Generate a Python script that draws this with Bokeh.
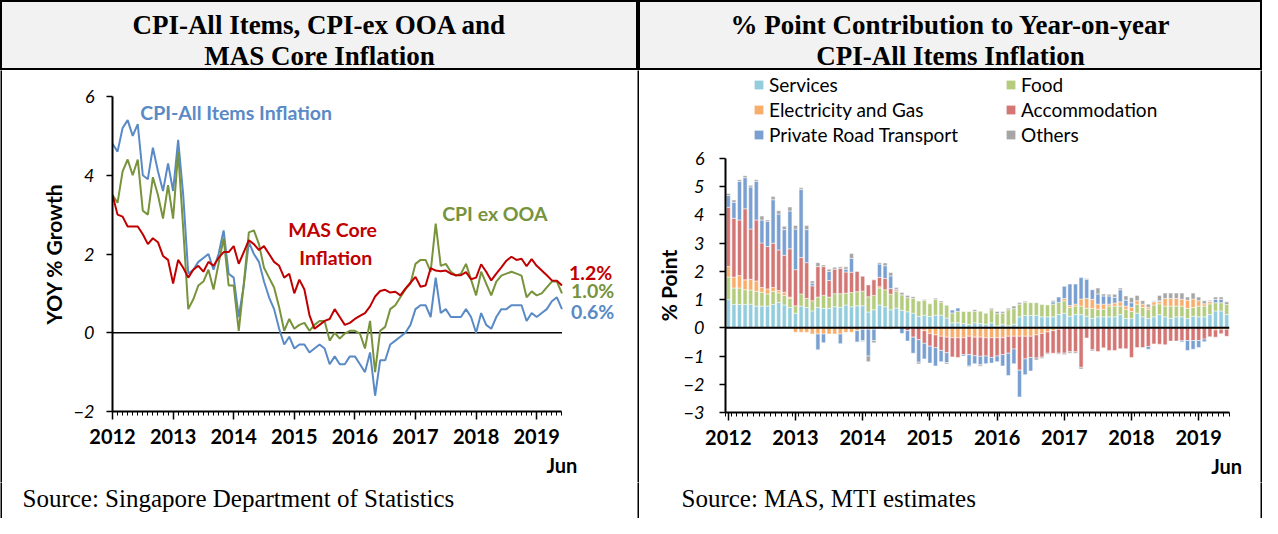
import numpy as np
from bokeh.plotting import figure
from bokeh.models import (Range1d, FixedTicker, Span, Label, Legend, LegendItem,
                          ColumnDataSource, LinearAxis)
from bokeh.layouts import row, column
from bokeh.embed import file_html
from bokeh.resources import INLINE

# ---------------- data (monthly, Jan 2012 .. Jun 2019) ----------------
year_labels = ["2012", "2013", "2014", "2015", "2016", "2017", "2018", "2019"]
last_month_label = "Jun"

cpi_all = [4.8, 4.6, 5.2, 5.4, 5.0, 5.3, 4.0, 3.9, 4.7, 4.1, 3.6, 4.3,
           3.6, 4.9, 3.5, 1.5, 1.6, 1.8, 1.9, 2.0, 1.6, 2.0, 2.6, 1.5,
           1.4, 0.4, 1.2, 2.3, 2.0, 1.8, 1.3, 0.9, 0.6, 0.1, -0.3, -0.1,
           -0.4, -0.3, -0.3, -0.5, -0.4, -0.3, -0.4, -0.8, -0.6, -0.8, -0.8, -0.6,
           -0.6, -0.8, -1.0, -0.5, -1.6, -0.7, -0.7, -0.3, -0.2, -0.1, 0.0, 0.2,
           0.6, 0.7, 0.7, 0.4, 1.4, 0.5, 0.6, 0.4, 0.4, 0.4, 0.6, 0.4,
           0.0, 0.5, 0.2, 0.1, 0.4, 0.6, 0.6, 0.7, 0.7, 0.7, 0.3, 0.5,
           0.4, 0.5, 0.6, 0.8, 0.9, 0.6]
cpi_ex_ooa = [3.5, 3.3, 4.1, 4.4, 4.0, 4.4, 3.1, 3.0, 3.95, 3.5, 2.9, 3.75,
              2.9, 4.6, 2.65, 0.6, 0.85, 1.2, 1.3, 1.6, 1.1, 1.75, 2.4, 1.2,
              1.2, 0.05, 1.25, 2.55, 2.6, 2.25, 1.65, 1.4, 1.15, 0.65, 0.05, 0.35,
              0.1, 0.2, 0.25, 0.05, 0.2, 0.3, 0.3, -0.2, 0.0, -0.15, -0.02, 0.05,
              0.05, -0.02, -0.4, 0.3, -1.0, 0.05, 0.15, 0.6, 0.7, 0.9, 1.1, 1.25,
              1.75, 1.85, 1.85, 1.55, 2.77, 1.7, 1.75, 1.55, 1.45, 1.5, 1.75, 1.35,
              0.95, 1.55, 1.25, 0.95, 1.3, 1.45, 1.5, 1.55, 1.5, 1.45, 0.9, 1.05,
              0.95, 1.0, 1.15, 1.3, 1.3, 1.0]
mas_core = [3.5, 3.0, 2.95, 2.7, 2.7, 2.7, 2.5, 2.25, 2.4, 2.3, 1.95, 1.85,
            1.25, 1.85, 1.65, 1.4, 1.6, 1.7, 1.55, 1.8, 1.7, 1.9, 2.05, 2.05,
            2.2, 1.75, 2.05, 2.35, 2.25, 2.1, 2.2, 2.0, 1.8, 1.7, 1.4, 1.5,
            1.0, 1.35, 1.1, 0.45, 0.1, 0.2, 0.3, 0.35, 0.6, 0.4, 0.2, 0.25,
            0.35, 0.43, 0.5, 0.67, 0.92, 1.06, 1.09, 1.02, 1.04, 0.95, 1.12, 1.27,
            1.42, 1.17, 1.2, 1.64, 1.58, 1.56, 1.58, 1.5, 1.46, 1.46, 1.54, 1.36,
            1.4, 1.74, 1.55, 1.33, 1.5, 1.66, 1.83, 1.93, 1.85, 1.88, 1.69, 1.87,
            1.7, 1.58, 1.46, 1.33, 1.32, 1.2]

services = [1.0, 0.83, 0.83, 0.83, 0.84, 0.77, 0.77, 0.77, 0.83, 0.9, 0.81, 0.72,
            0.52, 0.77, 0.72, 0.6, 0.72, 0.69, 0.69, 0.75, 0.73, 0.81, 0.75, 0.78,
            0.78, 0.56, 0.64, 0.81, 0.75, 0.64, 0.7, 0.62, 0.57, 0.52, 0.4, 0.45,
            0.4, 0.45, 0.45, 0.35, 0.18, 0.18, 0.15, 0.12, 0.18, 0.15, 0.13, 0.18,
            0.07, 0.13, 0.07, 0.13, 0.39, 0.44, 0.44, 0.44, 0.39, 0.39, 0.39, 0.47,
            0.52, 0.41, 0.47, 0.47, 0.41, 0.33, 0.39, 0.39, 0.39, 0.39, 0.47, 0.33,
            0.33, 0.52, 0.39, 0.33, 0.39, 0.47, 0.39, 0.33, 0.39, 0.39, 0.33, 0.41,
            0.39, 0.39, 0.47, 0.6, 0.6, 0.47]
food = [0.8, 0.58, 0.58, 0.52, 0.5, 0.52, 0.49, 0.43, 0.46, 0.34, 0.34, 0.32,
        0.26, 0.43, 0.32, 0.36, 0.37, 0.46, 0.4, 0.46, 0.48, 0.42, 0.5, 0.5,
        0.52, 0.54, 0.51, 0.6, 0.6, 0.55, 0.6, 0.55, 0.5, 0.52, 0.55, 0.52,
        0.45, 0.55, 0.45, 0.45, 0.35, 0.4, 0.43, 0.46, 0.4, 0.44, 0.39, 0.46,
        0.43, 0.39, 0.57, 0.55, 0.45, 0.46, 0.45, 0.45, 0.44, 0.42, 0.45, 0.43,
        0.44, 0.31, 0.3, 0.3, 0.28, 0.36, 0.27, 0.27, 0.38, 0.38, 0.3, 0.33,
        0.25, 0.32, 0.33, 0.33, 0.42, 0.38, 0.38, 0.44, 0.38, 0.38, 0.36, 0.31,
        0.38, 0.38, 0.38, 0.29, 0.29, 0.36]
electricity_gas = [0.37, 0.39, 0.44, 0.35, 0.38, 0.37, 0.17, 0.18, 0.14, 0.08, 0.11, 0.05,
                   -0.16, -0.16, -0.16, -0.22, -0.22, -0.22, -0.22, -0.22, -0.22, -0.16, -0.16, -0.1,
                   -0.05, -0.05, -0.05, 0.05, -0.05, -0.05, 0.0, 0.0, 0.0, 0.0, 0.0, -0.1,
                   -0.2, -0.25, -0.3, -0.33, -0.35, -0.35, -0.35, -0.3, -0.33, -0.33, -0.35, -0.35,
                   -0.35, -0.35, -0.3, -0.3, -0.3, -0.3, -0.3, -0.25, -0.2, -0.15, -0.1, -0.05,
                   0.08, 0.07, 0.07, 0.25, 0.35, 0.32, 0.18, 0.18, 0.07, 0.11, 0.15, 0.11,
                   0.15, 0.12, 0.12, 0.07, 0.11, 0.08, 0.27, 0.27, 0.27, 0.24, 0.29, 0.3,
                   0.19, 0.08, 0.08, -0.08, -0.05, -0.05]
accommodation = [2.1, 2.08, 1.97, 2.52, 1.78, 2.16, 1.58, 1.5, 1.57, 1.44, 1.31, 1.71,
                 1.28, 1.29, 1.27, 0.53, 1.08, 1.02, 0.59, 0.87, 0.9, 0.75, 0.72, 0.72,
                 0.53, 0.42, 0.55, 0.33, 0.4, 0.2, 0.04, 0.0, -0.1, -0.33, -0.42, -0.45,
                 -0.45, -0.45, -0.5, -0.55, -0.68, -0.7, -0.6, -0.65, -0.66, -0.68, -0.65, -0.7,
                 -0.65, -0.6, -0.6, -0.45, -1.2, -0.8, -0.75, -0.82, -0.84, -0.75, -0.8, -0.85,
                 -0.9, -0.85, -0.85, -1.4, -0.36, -0.78, -0.84, -0.71, -0.8, -0.8, -0.74, -0.74,
                 -1.05, -0.7, -0.7, -0.66, -0.57, -0.58, -0.6, -0.47, -0.47, -0.46, -0.45, -0.45,
                 -0.45, -0.4, -0.32, -0.25, -0.16, -0.25]
private_road_transport = [0.42, 0.57, 1.37, 1.1, 1.49, 1.37, 0.81, 0.89, 1.54, 1.27, 0.91, 1.34,
                          1.44, 2.41, 1.17, 0.09, -0.56, -0.31, 0.32, 0.0, -0.34, 0.1, 0.49, -0.4,
                          -0.4, -0.95, -0.4, 0.47, 0.45, 0.45, 0.03, -0.2, -0.37, -0.57, -0.8, -0.55,
                          -0.6, -0.65, -0.4, -0.35, 0.1, 0.12, -0.05, -0.4, -0.28, -0.3, -0.27, -0.2,
                          -0.2, -0.4, -0.79, -0.52, -0.95, -0.56, -0.48, 0.0, 0.0, 0.0, 0.08, 0.19,
                          0.43, 0.76, 0.71, 0.76, 0.68, 0.34, 0.36, 0.29, 0.29, 0.2, 0.43, 0.21,
                          0.16, 0.0, 0.0, -0.1, 0.03, 0.03, 0.0, 0.0, 0.0, -0.04, -0.35, -0.31,
                          -0.25, -0.09, 0.02, 0.12, 0.12, 0.0]
others = [0.07, 0.08, 0.06, 0.07, 0.06, 0.06, 0.14, 0.05, 0.11, 0.12, 0.12, 0.14,
          0.13, 0.06, 0.15, 0.08, 0.14, 0.06, 0.08, 0.07, 0.05, 0.08, 0.17, 0.0,
          -0.03, -0.2, -0.08, 0.05, 0.1, 0.12, 0.06, 0.08, 0.08, 0.06, -0.06, 0.03,
          0.0, 0.05, 0.05, -0.05, 0.0, 0.0, 0.0, -0.03, 0.06, -0.05, 0.0, 0.05,
          0.08, 0.06, 0.05, 0.09, 0.06, 0.04, 0.0, -0.07, -0.05, -0.04, 0.05, -0.04,
          -0.05, -0.05, -0.05, -0.06, 0.03, -0.04, 0.21, 0.07, 0.06, 0.11, 0.06, 0.15,
          0.18, 0.19, 0.12, 0.11, 0.01, 0.19, 0.19, 0.19, 0.19, 0.22, 0.11, 0.21,
          0.13, 0.11, 0.03, 0.08, 0.08, 0.09]

series_names = ["Services", "Food", "Electricity and Gas", "Accommodation",
                "Private Road Transport", "Others"]
series_values = [services, food, electricity_gas, accommodation,
                 private_road_transport, others]
series_colors = ["#93CDDD", "#B4CC7E", "#F9AD6B", "#D47674", "#7AA0D2", "#A6A6A6"]

FONT = "Lato"
SERIF = "Liberation Serif"
N = len(cpi_all)
months = np.arange(N)
year_ticks = list(range(0, N, 12))
year_overrides = {t: lab for t, lab in zip(year_ticks, year_labels)}

CHART_H = 412
SRC_H = 36
LEG_H = 76


def box_fig(w, h, bg, outline=False):
    p = figure(width=w, height=h, x_range=Range1d(0, w), y_range=Range1d(0, h),
               output_backend="svg", toolbar_location=None,
               x_axis_location=None, y_axis_location=None, min_border=0,
               background_fill_color=bg, border_fill_color=bg,
               outline_line_color="black" if outline else None, outline_line_width=3)
    p.grid.visible = False
    return p


def style_axes(p, ylabel, y_standoff, ylab_standoff):
    ya = p.yaxis[0]
    xa = p.xaxis[0]
    for ax in (xa, ya):
        ax.axis_line_color = "black"
        ax.axis_line_width = 2
        ax.major_tick_line_color = "black"
        ax.minor_tick_line_color = "black"
        ax.major_tick_in = 0
        ax.minor_tick_in = 0
        ax.major_label_text_font = FONT
        ax.major_label_text_color = "black"
    ya.major_tick_out = 6
    ya.minor_tick_out = 0
    ya.major_tick_line_width = 1.5
    ya.major_label_text_font_style = "italic"
    ya.major_label_text_font_size = "18px"
    ya.major_label_standoff = y_standoff
    ya.axis_label = ylabel
    ya.axis_label_text_font = FONT
    ya.axis_label_text_font_style = "bold"
    ya.axis_label_text_font_size = "21px"
    ya.axis_label_text_color = "black"
    ya.axis_label_standoff = ylab_standoff
    xa.major_tick_out = 8
    xa.minor_tick_out = 4
    xa.major_tick_line_width = 1.5
    xa.minor_tick_line_width = 1
    xa.major_label_overrides = year_overrides
    xa.major_label_text_font_style = "bold"
    xa.major_label_text_font_size = "20px"
    xa.major_label_standoff = 9
    p.grid.visible = False


def add_month_axis(p, x):
    ax = LinearAxis(ticker=FixedTicker(ticks=[x]), major_label_overrides={x: last_month_label},
                    axis_line_color=None, major_tick_line_color=None, minor_tick_line_color=None,
                    major_label_standoff=0, major_label_text_font=FONT,
                    major_label_text_font_style="bold", major_label_text_font_size="20px",
                    major_label_text_color="black")
    p.add_layout(ax, "below")


def lab(p, x, y, text, color, size="19.5px", align="left"):
    p.add_layout(Label(x=x, y=y, text=text, text_color=color, text_font=FONT,
                       text_font_size=size, text_font_style="bold", text_align=align,
                       text_baseline="middle"))


# ---------------- left chart ----------------
pl = figure(width=635, height=CHART_H, x_range=Range1d(0, 100), y_range=Range1d(-2, 6),
            output_backend="svg", toolbar_location=None,
            min_border_left=110, min_border_right=20, min_border_top=26, min_border_bottom=71,
            outline_line_color=None, background_fill_color="white", border_fill_color="white")
style_axes(pl, "YOY % Growth", 12, 5)
pl.yaxis[0].ticker = FixedTicker(ticks=[-2, 0, 2, 4, 6])
pl.xaxis[0].ticker = FixedTicker(ticks=year_ticks, minor_ticks=list(range(N)))
pl.xaxis[0].bounds = (0, N - 1)
add_month_axis(pl, N - 1)
pl.segment(x0=[0], y0=[0], x1=[N - 1], y1=[0], line_color="black", line_width=1.5, level="underlay")

BLUE, GREEN, RED = "#5A8AC6", "#77933C", "#C00000"
pl.line(months, cpi_all, line_color=BLUE, line_width=2)
pl.line(months, cpi_ex_ooa, line_color=GREEN, line_width=2)
pl.line(months, mas_core, line_color=RED, line_width=2)

lab(pl, 5.5, 5.59, "CPI-All Items Inflation", BLUE)
lab(pl, 43.6, 2.62, "MAS Core", RED, align="center")
lab(pl, 44.2, 1.91, "Inflation", RED, align="center")
lab(pl, 75.7, 3.04, "CPI ex OOA", GREEN, align="center")
lab(pl, 90.4, 1.54, f"{mas_core[-1]:.1f}%", RED)
lab(pl, 90.8, 1.07, f"{cpi_ex_ooa[-1]:.1f}%", GREEN)
lab(pl, 90.8, 0.55, f"{cpi_all[-1]:.1f}%", BLUE)

# ---------------- right chart ----------------
pr = figure(width=621, height=CHART_H - LEG_H, x_range=Range1d(-0.5, N - 0.5), y_range=Range1d(-3, 6),
            output_backend="svg", toolbar_location=None,
            min_border_left=86, min_border_right=31, min_border_top=12, min_border_bottom=70,
            outline_line_color=None, background_fill_color="white", border_fill_color="white")
style_axes(pr, "% Point", 15, 0)
pr.yaxis[0].ticker = FixedTicker(ticks=list(range(-3, 7)))
pr.xaxis[0].ticker = FixedTicker(ticks=year_ticks, minor_ticks=[i + 0.5 for i in range(-1, N)])
add_month_axis(pr, N - 1)

pos_base = np.zeros(N)
neg_base = np.zeros(N)
for name, vals, col in zip(series_names, series_values, series_colors):
    v = np.array(vals, dtype=float)
    pos = np.clip(v, 0, None)
    neg = np.clip(v, None, 0)
    mp = pos > 0
    src = ColumnDataSource(dict(x=months[mp], bottom=pos_base[mp], top=(pos_base + pos)[mp]))
    pr.vbar(x="x", bottom="bottom", top="top", width=0.72, source=src,
            fill_color=col, line_color="white", line_width=0.5)
    mn = neg < 0
    src2 = ColumnDataSource(dict(x=months[mn], bottom=(neg_base + neg)[mn], top=neg_base[mn]))
    pr.vbar(x="x", bottom="bottom", top="top", width=0.72, source=src2,
            fill_color=col, line_color="white", line_width=0.5)
    pos_base = pos_base + pos
    neg_base = neg_base + neg

pr.add_layout(Span(location=0, dimension="width", line_color="black", line_width=2))

# legend strip above the bar chart (its frame is aligned with the bar chart frame);
# hidden copies of the series supply the legend keys
lf = box_fig(621, LEG_H, "white")
key_renderers = {}
for name, vals, col in zip(series_names, series_values, series_colors):
    key_renderers[name] = lf.vbar(x=months, top=vals, width=0.72, fill_color=col,
                                  line_color=None, visible=False)


def make_legend(names, loc):
    lg = Legend(items=[LegendItem(label=n, renderers=[key_renderers[n]]) for n in names],
                location=loc, orientation="vertical", background_fill_alpha=0,
                border_line_color=None, label_text_font=FONT, label_text_font_size="19px",
                label_text_color="black", glyph_width=11, glyph_height=11, label_standoff=5,
                spacing=2, padding=0, margin=0, label_height=22,
                inactive_fill_alpha=0)
    lf.add_layout(lg)


make_legend(series_names[0::2], (28, 0))
make_legend(series_names[1::2], (280, 0))

# ---------------- frame: titles, sources, borders ----------------
tl = box_fig(638, 70, "#F2F2F2", outline=True)
tr = box_fig(624, 70, "#F2F2F2", outline=True)
for p, lines in ((tl, ["CPI-All Items, CPI-ex OOA and", "MAS Core Inflation"]),
                 (tr, ["% Point Contribution to Year-on-year", "CPI-All Items Inflation"])):
    for yy, t in zip((46, 15), lines):
        p.add_layout(Label(x=p.width / 2, y=yy, text=t, text_align="center", text_baseline="middle",
                           text_font=SERIF, text_font_style="bold", text_font_size="27px",
                           text_color="black"))

sl = box_fig(635, SRC_H, "white")
sl.add_layout(Label(x=20, y=7, text="Source: Singapore Department of Statistics",
                    text_font=SERIF, text_font_size="25px", text_color="black"))
sr = box_fig(621, SRC_H, "white")
sr.add_layout(Label(x=42, y=7, text="Source: MAS, MTI estimates",
                    text_font=SERIF, text_font_size="25px", text_color="black"))


def vline(h):
    return box_fig(2, h, "black")


layout = column(
    row(tl, tr, spacing=0),
    row(vline(CHART_H), column(pl, spacing=0), vline(CHART_H), column(lf, pr, spacing=0),
        vline(CHART_H), spacing=0),
    row(vline(SRC_H), sl, vline(SRC_H), sr, vline(SRC_H), spacing=0),
    spacing=0)

open("out.html", "w").write(file_html(layout, INLINE))
